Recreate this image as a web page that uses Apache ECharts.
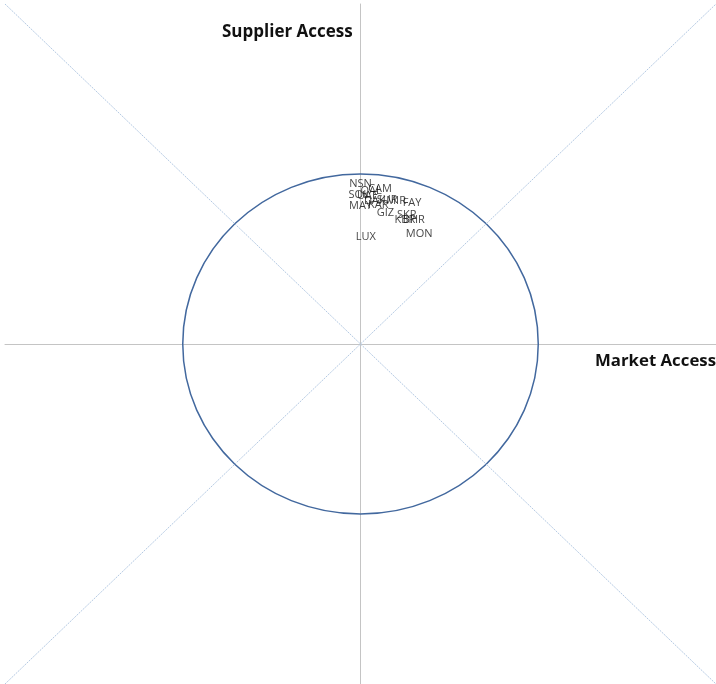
<!DOCTYPE html>
<html>
<head>
<meta charset="utf-8">
<script src="https://cdn.jsdelivr.net/npm/echarts@6/dist/echarts.min.js"></script>
<style>
  html, body { margin: 0; padding: 0; background: #fff; }
  #chart { width: 716px; height: 684px; }
</style>
</head>
<body>
<div id="chart"></div>
<script>
// label codes and their positions (market access, supplier access)
const names = ['NSN', 'CAM', 'SOL', 'QAL', 'UAE', 'SUR', 'DAK', 'MAY', 'KAR', 'MIR', 'FAY', 'GIZ', 'SKR', 'KBR', 'BHR', 'MON', 'LUX'];
const marketAccess = [0.00, 0.11, -0.01, 0.06, 0.04, 0.15, 0.08, 0.00, 0.10, 0.20, 0.29, 0.14, 0.26, 0.25, 0.30, 0.33, 0.03];
const supplierAccess = [0.94, 0.91, 0.88, 0.90, 0.87, 0.85, 0.84, 0.81, 0.82, 0.84, 0.83, 0.77, 0.76, 0.73, 0.73, 0.65, 0.63];
const axisRange = [-2, 2];
const unitCircle = [[0, 0, 1]]; // centre x, centre y, radius
const diagonal1 = [[-2, -2], [2, 2]];
const diagonal2 = [[-2, 2], [2, -2]];

const chart = echarts.init(document.getElementById('chart'));

const points = names.map((n, i) => [marketAccess[i], supplierAccess[i], n]);

const option = {
  animation: false,
  grid: { left: 5, right: 0, top: 4, bottom: 0 },
  xAxis: {
    type: 'value', min: axisRange[0], max: axisRange[1],
    axisLine: { onZero: true, lineStyle: { color: '#c4c4c4', width: 1 } },
    axisTick: { show: false }, axisLabel: { show: false }, splitLine: { show: false }
  },
  yAxis: {
    type: 'value', min: axisRange[0], max: axisRange[1],
    axisLine: { onZero: true, lineStyle: { color: '#c4c4c4', width: 1 } },
    axisTick: { show: false }, axisLabel: { show: false }, splitLine: { show: false }
  },
  graphic: [
    { type: 'text', left: 222, top: 24, style: { text: 'Supplier Access', font: 'bold 17px "Open Sans", sans-serif', fill: '#111' } },
    { type: 'text', left: 595, top: 353, style: { text: 'Market Access', font: 'bold 16.8px "Open Sans", sans-serif', fill: '#111' } }
  ],
  series: [
    {
      type: 'line', data: diagonal1, symbol: 'none', silent: true,
      lineStyle: { color: '#b4c9e2', width: 1, type: [2, 1] }
    },
    {
      type: 'line', data: diagonal2, symbol: 'none', silent: true,
      lineStyle: { color: '#b4c9e2', width: 1, type: [2, 1] }
    },
    {
      type: 'custom', data: unitCircle, silent: true,
      renderItem: function (params, api) {
        const c = api.coord([api.value(0), api.value(1)]);
        const s = api.size([api.value(2), api.value(2)]);
        return {
          type: 'ellipse',
          shape: { cx: c[0], cy: c[1], rx: s[0], ry: s[1] },
          style: { fill: 'none', stroke: '#42689e', lineWidth: 1.5 }
        };
      }
    },
    {
      type: 'scatter', data: points, symbolSize: 1,
      itemStyle: { color: 'rgba(0,0,0,0)' },
      label: {
        show: true, position: 'inside',
        formatter: p => p.data[2],
        fontFamily: '"Open Sans", sans-serif', fontSize: 11, color: '#111'
      },
      z: 5
    }
  ]
};

chart.setOption(option);
window.addEventListener('resize', () => chart.resize());
</script>
</body>
</html>
